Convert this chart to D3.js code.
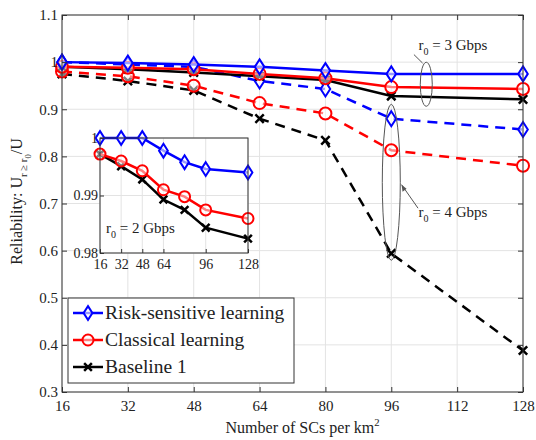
<!DOCTYPE html>
<html>
<head>
<meta charset="utf-8">
<script src="https://cdn.jsdelivr.net/npm/d3@7"></script>
<style>
  body { margin: 0; background: white; }
</style>
</head>
<body>
<div id="myVis"></div>
<script>
var margin = {top: 15, right: 13, bottom: 48, left: 62},
width = 536 - margin.left - margin.right,
height = 440 - margin.top - margin.bottom;

const serif = "Tinos, Liberation Serif, serif"

// x values (SCs per km^2)
const scs = [16, 32, 48, 64, 80, 96, 128]
const xTicks = [16, 32, 48, 64, 80, 96, 112, 128]
const yTicks = [0.3, 0.4, 0.5, 0.6, 0.7, 0.8, 0.9, 1, 1.1]

// r0 = 3 Gbps (solid)
const risk3 = [1.0, 0.998, 0.995, 0.99, 0.982, 0.975, 0.975]
const classic3 = [0.99, 0.988, 0.985, 0.975, 0.966, 0.947, 0.943]
const base3 = [0.99, 0.985, 0.978, 0.97, 0.962, 0.928, 0.921]

// r0 = 4 Gbps (dashed)
const risk4 = [1.0, 0.995, 0.99, 0.96, 0.943, 0.88, 0.857]
const classic4 = [0.98, 0.97, 0.95, 0.913, 0.891, 0.813, 0.78]
const base4 = [0.975, 0.96, 0.94, 0.88, 0.834, 0.594, 0.388]

// inset, r0 = 2 Gbps
const risk2 = [1.0, 1.0, 1.0, 0.9978, 0.9958, 0.9946, 0.994]
const classic2 = [0.9972, 0.996, 0.9943, 0.991, 0.9898, 0.9875, 0.986]
const base2 = [0.9972, 0.9951, 0.9928, 0.9893, 0.9875, 0.9844, 0.9825]
const insetXTicks = [16, 32, 48, 64, 96, 128]
const insetYTicks = [0.98, 0.99, 1]

const legendNames = ["Risk-sensitive learning", "Classical learning", "Baseline 1"]
const colors = ["#0000ff", "#ff0000", "#000000"]
const markers = ["diamond", "circle", "x"]

const svg = d3.select("#myVis")
    .append("svg")
        .attr("width", 536)
        .attr("height", 440)
        .attr("font-family", serif)
        .style("background-color", "white")

const canvas = svg.append("g")
    .attr("transform", "translate(" + margin.left + "," + margin.top + ")")

const x = d3.scaleLinear().domain([16, 128]).range([0, width])
const y = d3.scaleLinear().domain([0.3, 1.1]).range([height, 0])

// grid
canvas.append("g").selectAll("line").data(xTicks).enter().append("line")
    .attr("x1", d => x(d)).attr("x2", d => x(d))
    .attr("y1", 0).attr("y2", height)
    .attr("stroke", "#e3e3e3").attr("stroke-width", 1)
canvas.append("g").selectAll("line").data(yTicks).enter().append("line")
    .attr("y1", d => y(d)).attr("y2", d => y(d))
    .attr("x1", 0).attr("x2", width)
    .attr("stroke", "#e3e3e3").attr("stroke-width", 1)

// draw a marker at a point
const drawMarker = (g, type, color, px, py, s) => {
    if (type == "diamond") {
        g.append("path")
            .attr("d", "M" + px + "," + (py - s * 1.25) + " L" + (px + s * 0.8) + "," + py +
                " L" + px + "," + (py + s * 1.25) + " L" + (px - s * 0.8) + "," + py + "Z")
            .attr("fill", "white").attr("fill-opacity", 0.6)
            .attr("stroke", color).attr("stroke-width", 2)
    } else if (type == "circle") {
        g.append("circle").attr("cx", px).attr("cy", py).attr("r", s)
            .attr("fill", "white").attr("fill-opacity", 0.5)
            .attr("stroke", color).attr("stroke-width", 2)
    } else {
        g.append("path")
            .attr("d", "M" + (px - s * 0.7) + "," + (py - s * 0.7) + " L" + (px + s * 0.7) + "," + (py + s * 0.7) +
                " M" + (px - s * 0.7) + "," + (py + s * 0.7) + " L" + (px + s * 0.7) + "," + (py - s * 0.7))
            .attr("stroke", color).attr("stroke-width", 2.5)
    }
}

const drawSeries = (g, xs, ys, vals, color, type, dashed, size) => {
    const line = d3.line().x((d, i) => xs(scs[i])).y(d => ys(d))
    g.append("path").datum(vals)
        .attr("d", line)
        .attr("fill", "none")
        .attr("stroke", color)
        .attr("stroke-width", 2.5)
        .attr("stroke-dasharray", dashed ? "10,7" : null)
    vals.forEach((v, i) => drawMarker(g, type, color, xs(scs[i]), ys(v), size))
}

const plot = canvas.append("g")
const mainSeries = [
    [base4, 2, true], [classic4, 1, true], [risk4, 0, true],
    [base3, 2, false], [classic3, 1, false], [risk3, 0, false]
]
mainSeries.forEach(s => drawSeries(plot, x, y, s[0], colors[s[1]], markers[s[1]], s[2], 6))

// axes box
canvas.append("rect").attr("width", width).attr("height", height)
    .attr("fill", "none").attr("stroke", "#333").attr("stroke-width", 1)

canvas.append("g").attr("transform", "translate(0," + height + ")")
    .call(d3.axisBottom(x).tickValues(xTicks).tickSize(-5).tickPadding(8).tickFormat(d3.format("d")))
canvas.append("g")
    .call(d3.axisLeft(y).tickValues(yTicks).tickSize(-5).tickPadding(4).tickFormat(d => d == 1 ? "1" : d3.format(".1f")(d)))
canvas.append("g").attr("transform", "translate(" + width + ",0)")
    .call(d3.axisRight(y).tickValues(yTicks).tickSize(-5).tickFormat(""))
canvas.append("g")
    .call(d3.axisTop(x).tickValues(xTicks).tickSize(-5).tickFormat(""))
canvas.selectAll(".domain").remove()
canvas.selectAll(".tick line").attr("stroke", "#333")
canvas.selectAll(".tick text").attr("font-family", serif).attr("font-size", 15).attr("fill", "#222")

// axis labels (15px text, scaled up a little)
canvas.append("text")
    .attr("transform", "translate(" + (width / 2 + 10) + "," + (height + 41) + ") scale(1.07)")
    .attr("text-anchor", "middle").attr("font-family", serif).attr("font-size", 15).attr("fill", "#222")
    .html('Number of SCs per km<tspan dy="-7" font-size="10">2</tspan>')

const yl = canvas.append("text")
    .attr("transform", "translate(-40," + (height / 2 - 2) + ") rotate(-90) scale(1.07)")
    .attr("text-anchor", "middle").attr("font-family", serif).attr("font-size", 15).attr("fill", "#222")
yl.append("tspan").text("Reliability: U")
yl.append("tspan").attr("dy", 5).attr("font-size", 10).text("r ≥ r")
yl.append("tspan").attr("dy", 3).attr("font-size", 8).text("0")
yl.append("tspan").attr("dy", -8).text("/U")

// r0 label helper
const rLabel = (g, px, py, rest, anchor) => {
    const t = g.append("text").attr("x", px).attr("y", py)
        .attr("font-family", serif).attr("font-size", 15).attr("fill", "#222").attr("text-anchor", anchor)
    t.append("tspan").text("r")
    t.append("tspan").attr("dy", 5).attr("font-size", 10).text("0")
    t.append("tspan").attr("dy", -5).text(rest)
}

// annotation r0 = 3 Gbps
const ann = canvas.append("g")
ann.append("ellipse").attr("cx", x(104.5)).attr("cy", y(0.953)).attr("rx", 6).attr("ry", 22)
    .attr("fill", "none").attr("stroke", "#555").attr("stroke-width", 1)
ann.append("line").attr("x1", x(101.5)).attr("y1", y(1.016)).attr("x2", x(103.6)).attr("y2", y(0.998))
    .attr("stroke", "#555").attr("stroke-width", 1)
rLabel(ann, x(111), y(1.025), " = 3 Gbps", "middle")

// annotation r0 = 4 Gbps
ann.append("ellipse").attr("cx", x(96)).attr("cy", y(0.745)).attr("rx", 9).attr("ry", 78)
    .attr("fill", "none").attr("stroke", "#555").attr("stroke-width", 1)
ann.append("line").attr("x1", x(102.5)).attr("y1", y(0.69)).attr("x2", x(98.5)).attr("y2", y(0.74))
    .attr("stroke", "#555").attr("stroke-width", 1)
ann.append("path").attr("d", "M" + x(98.5) + "," + y(0.74) + " l1,7 l4,-3 Z").attr("fill", "#555")
rLabel(ann, x(111), y(0.671), " = 4 Gbps", "middle")

// inset
const inset = {left: 100 - margin.left, top: 138 - margin.top, width: 148, height: 115}
const ig = canvas.append("g").attr("transform", "translate(" + inset.left + "," + inset.top + ")")
const xi = d3.scaleLinear().domain([16, 128]).range([0, inset.width])
const yi = d3.scaleLinear().domain([0.98, 1.0]).range([inset.height, 0])
ig.append("rect").attr("width", inset.width).attr("height", inset.height).attr("fill", "white")
ig.append("g").selectAll("line").data(insetXTicks).enter().append("line")
    .attr("x1", d => xi(d)).attr("x2", d => xi(d)).attr("y1", 0).attr("y2", inset.height)
    .attr("stroke", "#e3e3e3")
ig.append("g").selectAll("line").data(insetYTicks).enter().append("line")
    .attr("y1", d => yi(d)).attr("y2", d => yi(d)).attr("x1", 0).attr("x2", inset.width)
    .attr("stroke", "#e3e3e3")
drawSeries(ig, xi, yi, base2, colors[2], "x", false, 5.5)
drawSeries(ig, xi, yi, classic2, colors[1], "circle", false, 5.5)
drawSeries(ig, xi, yi, risk2, colors[0], "diamond", false, 5.5)
ig.append("rect").attr("width", inset.width).attr("height", inset.height)
    .attr("fill", "none").attr("stroke", "#333").attr("stroke-width", 1)
ig.append("g").attr("transform", "translate(0," + inset.height + ")")
    .call(d3.axisBottom(xi).tickValues(insetXTicks).tickSize(-4).tickPadding(6))
ig.append("g")
    .call(d3.axisLeft(yi).tickValues(insetYTicks).tickSize(-4).tickPadding(2).tickFormat(d => d == 1 ? "1" : d3.format(".2f")(d)))
ig.selectAll(".domain").remove()
ig.selectAll(".tick line").attr("stroke", "#333")
ig.selectAll(".tick text").attr("font-family", serif).attr("font-size", 14).attr("fill", "#222")
rLabel(ig, 6, 95, " = 2 Gbps", "start")

// legend (15px text scaled to ~20px)
const lg = canvas.append("g").attr("transform", "translate(" + (68 - margin.left) + "," + (298 - margin.top) + ")")
lg.append("rect").attr("width", 226).attr("height", 85)
    .attr("fill", "white").attr("stroke", "#333").attr("stroke-width", 1)
legendNames.forEach((name, i) => {
    const ly = 15 + i * 27
    lg.append("line").attr("x1", 5).attr("x2", 35).attr("y1", ly).attr("y2", ly)
        .attr("stroke", colors[i]).attr("stroke-width", 2.5)
    drawMarker(lg, markers[i], colors[i], 20, ly, 5.5)
    lg.append("text").attr("transform", "translate(37," + (ly + 6) + ") scale(1.3)")
        .attr("font-family", serif).attr("font-size", 15).attr("fill", "#222").text(name)
})
</script>
</body>
</html>
